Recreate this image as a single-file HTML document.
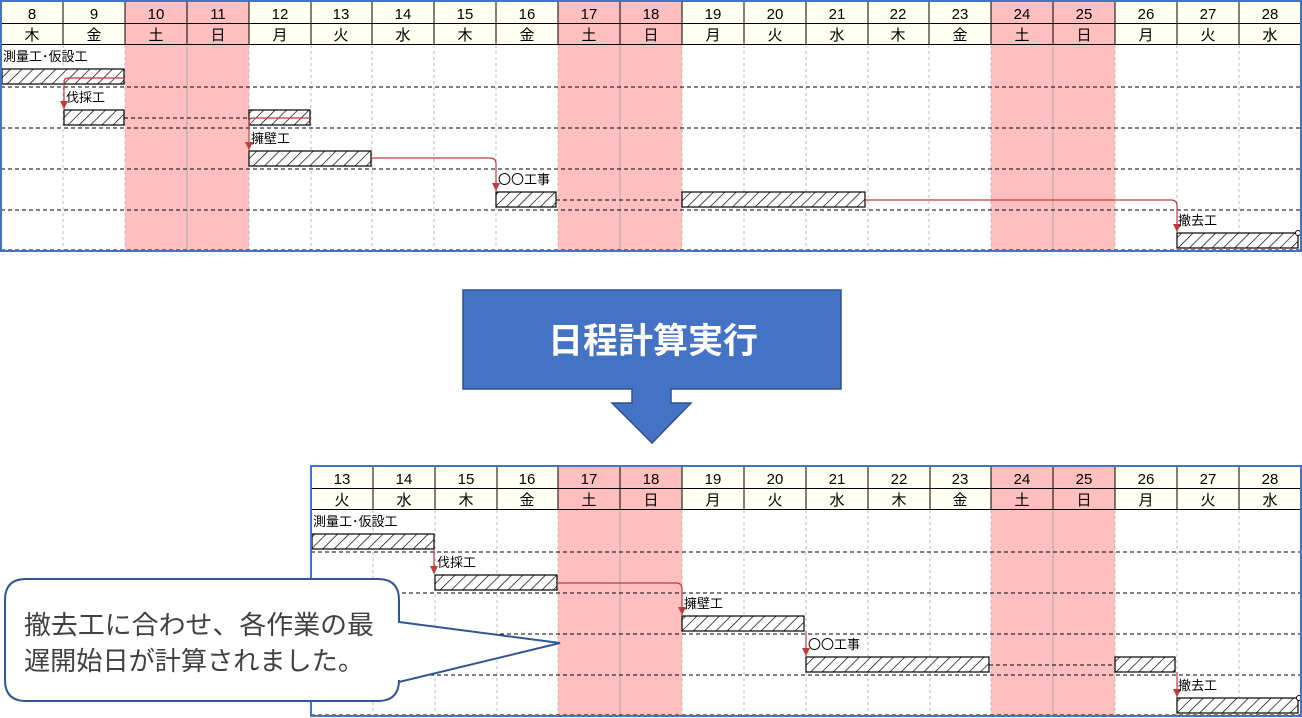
<!DOCTYPE html>
<html><head><meta charset="utf-8"><style>
html,body{margin:0;padding:0;background:#fff;width:1302px;height:718px;overflow:hidden}
svg{display:block}
text{font-family:"Liberation Sans","Noto Sans CJK JP",sans-serif}
.h{font-size:15px;fill:#000;text-anchor:middle}
.l{font-size:13px;fill:#000}
.c{font-family:"Noto Sans CJK JP",sans-serif}
</style></head><body>
<svg width="1302" height="718" viewBox="0 0 1302 718" xmlns="http://www.w3.org/2000/svg">
<defs>
<pattern id="hat" patternUnits="userSpaceOnUse" width="8" height="8" patternTransform="rotate(45)">
<rect width="8" height="8" fill="#fff"/><line x1="0" y1="0" x2="0" y2="8" stroke="#000" stroke-width="1.4"/>
</pattern>
<marker id="ar" markerWidth="9" markerHeight="9" refX="8" refY="4" orient="auto" markerUnits="userSpaceOnUse"><path d="M0,0 L8,4 L0,8z" fill="#c0393b"/></marker>
</defs>

<!-- ===== TOP CHART ===== -->
<rect x="1" y="1" width="1300" height="250" fill="#fff"/>
<rect x="1" y="1" width="1300" height="44" fill="#FFFFF2"/>
<g fill="#FFBFBF">
<rect x="125" y="1" width="124" height="250"/>
<rect x="558" y="1" width="124" height="250"/>
<rect x="991" y="1" width="124" height="250"/>
</g>
<g stroke="#bbb" stroke-dasharray="3,3" stroke-width="1">
<line x1="63" y1="45" x2="63" y2="251"/><line x1="187" y1="45" x2="187" y2="251" stroke="#aaa" stroke-dasharray="none"/><line x1="311" y1="45" x2="311" y2="251"/><line x1="372" y1="45" x2="372" y2="251"/><line x1="434" y1="45" x2="434" y2="251"/><line x1="496" y1="45" x2="496" y2="251"/><line x1="620" y1="45" x2="620" y2="251" stroke="#aaa" stroke-dasharray="none"/><line x1="744" y1="45" x2="744" y2="251"/><line x1="806" y1="45" x2="806" y2="251"/><line x1="868" y1="45" x2="868" y2="251"/><line x1="929" y1="45" x2="929" y2="251"/><line x1="1053" y1="45" x2="1053" y2="251" stroke="#aaa" stroke-dasharray="none"/><line x1="1177" y1="45" x2="1177" y2="251"/><line x1="1239" y1="45" x2="1239" y2="251"/>
<line x1="125" y1="45" x2="125" y2="251"/><line x1="249" y1="45" x2="249" y2="251"/><line x1="558" y1="45" x2="558" y2="251"/><line x1="682" y1="45" x2="682" y2="251"/><line x1="991" y1="45" x2="991" y2="251"/><line x1="1115" y1="45" x2="1115" y2="251"/>
</g>
<g stroke="#000" stroke-width="1">
<line x1="1" y1="23.5" x2="1301" y2="23.5"/><line x1="1" y1="44.5" x2="1301" y2="44.5"/>
<line x1="63" y1="1" x2="63" y2="45"/><line x1="125" y1="1" x2="125" y2="45"/><line x1="187" y1="1" x2="187" y2="45"/><line x1="249" y1="1" x2="249" y2="45"/><line x1="311" y1="1" x2="311" y2="45"/><line x1="372" y1="1" x2="372" y2="45"/><line x1="434" y1="1" x2="434" y2="45"/><line x1="496" y1="1" x2="496" y2="45"/><line x1="558" y1="1" x2="558" y2="45"/><line x1="620" y1="1" x2="620" y2="45"/><line x1="682" y1="1" x2="682" y2="45"/><line x1="744" y1="1" x2="744" y2="45"/><line x1="806" y1="1" x2="806" y2="45"/><line x1="868" y1="1" x2="868" y2="45"/><line x1="929" y1="1" x2="929" y2="45"/><line x1="991" y1="1" x2="991" y2="45"/><line x1="1053" y1="1" x2="1053" y2="45"/><line x1="1115" y1="1" x2="1115" y2="45"/><line x1="1177" y1="1" x2="1177" y2="45"/><line x1="1239" y1="1" x2="1239" y2="45"/>
</g>
<g stroke="#000" stroke-dasharray="4,3" stroke-width="1">
<line x1="1" y1="87" x2="1301" y2="87"/><line x1="1" y1="128" x2="1301" y2="128"/><line x1="1" y1="169" x2="1301" y2="169"/><line x1="1" y1="210" x2="1301" y2="210"/><line x1="1" y1="250" x2="1301" y2="250"/>
</g>
<text x="32" y="19" class="h">8</text><text x="94" y="19" class="h">9</text><text x="156" y="19" class="h">10</text><text x="218" y="19" class="h">11</text><text x="280" y="19" class="h">12</text><text x="341" y="19" class="h">13</text><text x="403" y="19" class="h">14</text><text x="465" y="19" class="h">15</text><text x="527" y="19" class="h">16</text><text x="589" y="19" class="h">17</text><text x="651" y="19" class="h">18</text><text x="713" y="19" class="h">19</text><text x="775" y="19" class="h">20</text><text x="837" y="19" class="h">21</text><text x="898" y="19" class="h">22</text><text x="960" y="19" class="h">23</text><text x="1022" y="19" class="h">24</text><text x="1084" y="19" class="h">25</text><text x="1146" y="19" class="h">26</text><text x="1208" y="19" class="h">27</text><text x="1270" y="19" class="h">28</text>
<text x="32" y="40" class="h">木</text><text x="94" y="40" class="h">金</text><text x="156" y="40" class="h">土</text><text x="218" y="40" class="h">日</text><text x="280" y="40" class="h">月</text><text x="341" y="40" class="h">火</text><text x="403" y="40" class="h">水</text><text x="465" y="40" class="h">木</text><text x="527" y="40" class="h">金</text><text x="589" y="40" class="h">土</text><text x="651" y="40" class="h">日</text><text x="713" y="40" class="h">月</text><text x="775" y="40" class="h">火</text><text x="837" y="40" class="h">水</text><text x="898" y="40" class="h">木</text><text x="960" y="40" class="h">金</text><text x="1022" y="40" class="h">土</text><text x="1084" y="40" class="h">日</text><text x="1146" y="40" class="h">月</text><text x="1208" y="40" class="h">火</text><text x="1270" y="40" class="h">水</text>
<g stroke="#000" stroke-width="1.2" fill="url(#hat)">
<rect x="2" y="69" width="122" height="15"/>
<rect x="64" y="110" width="60" height="15"/>
<rect x="249" y="110" width="61" height="15"/>
<rect x="249" y="151" width="122" height="15"/>
<rect x="496" y="192" width="60" height="15"/>
<rect x="682" y="192" width="183" height="15"/>
<rect x="1177" y="233" width="121" height="15"/>
</g>
<g stroke="#000" stroke-dasharray="4,3"><line x1="124" y1="118" x2="249" y2="118"/><line x1="556" y1="200" x2="682" y2="200"/></g>
<g stroke="#c0393b" stroke-width="1.2" fill="none">
<path d="M124,78 H68 Q64,78 64,82 V109" marker-end="url(#ar)"/>
<path d="M310,118 H253 Q249,118 249,122 V150" marker-end="url(#ar)"/>
<path d="M371,158 H490 Q496,158 496,164 V191" marker-end="url(#ar)"/>
<path d="M865,200 H1171 Q1177,200 1177,206 V232" marker-end="url(#ar)"/>
</g>
<text x="3" y="61" class="l">測量工･仮設工</text>
<text x="66" y="102" class="l">伐採工</text>
<text x="251" y="143" class="l">擁壁工</text>
<text x="498" y="184" class="l"><tspan class="c">〇〇</tspan>工事</text>
<text x="1178" y="225" class="l">撤去工</text>
<circle cx="1298" cy="233" r="2.5" fill="#fff" stroke="#000"/>
<rect x="1" y="1" width="1300" height="250" fill="none" stroke="#4472C4" stroke-width="2"/>

<!-- ===== ARROW ===== -->
<rect x="463" y="290" width="378" height="99" fill="#4472C4" stroke="#2F528F" stroke-width="1.5"/>
<path d="M632,389 V403 H612 L652,443 L691,403 H671 V389" fill="#4472C4" stroke="#2F528F" stroke-width="1.5"/>
<rect x="633" y="385" width="37" height="6" fill="#4472C4"/>
<text x="653" y="353" text-anchor="middle" font-size="35" font-weight="bold" fill="#fff">日程計算実行</text>

<!-- ===== BOTTOM CHART ===== -->
<rect x="311" y="466" width="990" height="250" fill="#fff"/>
<rect x="311" y="466" width="990" height="44" fill="#FFFFF2"/>
<g fill="#FFBFBF">
<rect x="558" y="466" width="124" height="250"/>
<rect x="991" y="466" width="124" height="250"/>
</g>
<g stroke="#bbb" stroke-dasharray="3,3">
<line x1="373" y1="510" x2="373" y2="716"/><line x1="435" y1="510" x2="435" y2="716"/><line x1="497" y1="510" x2="497" y2="716"/><line x1="558" y1="510" x2="558" y2="716"/><line x1="620" y1="510" x2="620" y2="716" stroke="#aaa" stroke-dasharray="none"/><line x1="682" y1="510" x2="682" y2="716"/><line x1="744" y1="510" x2="744" y2="716"/><line x1="806" y1="510" x2="806" y2="716"/><line x1="868" y1="510" x2="868" y2="716"/><line x1="930" y1="510" x2="930" y2="716"/><line x1="991" y1="510" x2="991" y2="716"/><line x1="1053" y1="510" x2="1053" y2="716" stroke="#aaa" stroke-dasharray="none"/><line x1="1115" y1="510" x2="1115" y2="716"/><line x1="1177" y1="510" x2="1177" y2="716"/><line x1="1239" y1="510" x2="1239" y2="716"/>
</g>
<g stroke="#000">
<line x1="311" y1="488.5" x2="1301" y2="488.5"/><line x1="311" y1="509.5" x2="1301" y2="509.5"/>
<line x1="373" y1="466" x2="373" y2="510"/><line x1="435" y1="466" x2="435" y2="510"/><line x1="497" y1="466" x2="497" y2="510"/><line x1="558" y1="466" x2="558" y2="510"/><line x1="620" y1="466" x2="620" y2="510"/><line x1="682" y1="466" x2="682" y2="510"/><line x1="744" y1="466" x2="744" y2="510"/><line x1="806" y1="466" x2="806" y2="510"/><line x1="868" y1="466" x2="868" y2="510"/><line x1="930" y1="466" x2="930" y2="510"/><line x1="991" y1="466" x2="991" y2="510"/><line x1="1053" y1="466" x2="1053" y2="510"/><line x1="1115" y1="466" x2="1115" y2="510"/><line x1="1177" y1="466" x2="1177" y2="510"/><line x1="1239" y1="466" x2="1239" y2="510"/>
</g>
<g stroke="#000" stroke-dasharray="4,3">
<line x1="311" y1="552" x2="1301" y2="552"/><line x1="311" y1="593" x2="1301" y2="593"/><line x1="311" y1="634" x2="1301" y2="634"/><line x1="311" y1="675" x2="1301" y2="675"/><line x1="311" y1="715" x2="1301" y2="715"/>
</g>
<text x="342" y="484" class="h">13</text><text x="404" y="484" class="h">14</text><text x="466" y="484" class="h">15</text><text x="527" y="484" class="h">16</text><text x="589" y="484" class="h">17</text><text x="651" y="484" class="h">18</text><text x="713" y="484" class="h">19</text><text x="775" y="484" class="h">20</text><text x="837" y="484" class="h">21</text><text x="899" y="484" class="h">22</text><text x="960" y="484" class="h">23</text><text x="1022" y="484" class="h">24</text><text x="1084" y="484" class="h">25</text><text x="1146" y="484" class="h">26</text><text x="1208" y="484" class="h">27</text><text x="1270" y="484" class="h">28</text>
<text x="342" y="505" class="h">火</text><text x="404" y="505" class="h">水</text><text x="466" y="505" class="h">木</text><text x="527" y="505" class="h">金</text><text x="589" y="505" class="h">土</text><text x="651" y="505" class="h">日</text><text x="713" y="505" class="h">月</text><text x="775" y="505" class="h">火</text><text x="837" y="505" class="h">水</text><text x="899" y="505" class="h">木</text><text x="960" y="505" class="h">金</text><text x="1022" y="505" class="h">土</text><text x="1084" y="505" class="h">日</text><text x="1146" y="505" class="h">月</text><text x="1208" y="505" class="h">火</text><text x="1270" y="505" class="h">水</text>
<g stroke="#000" stroke-width="1.2" fill="url(#hat)">
<rect x="312" y="534" width="122" height="15"/>
<rect x="435" y="575" width="122" height="15"/>
<rect x="682" y="616" width="122" height="15"/>
<rect x="806" y="657" width="183" height="15"/>
<rect x="1115" y="657" width="60" height="15"/>
<rect x="1177" y="698" width="121" height="15"/>
</g>
<line x1="989" y1="665" x2="1115" y2="665" stroke="#000" stroke-dasharray="4,3"/>
<g stroke="#c0393b" stroke-width="1.2" fill="none">
<path d="M434,549 V574" marker-end="url(#ar)"/>
<path d="M557,583 H676 Q682,583 682,589 V615" marker-end="url(#ar)"/>
<path d="M806,631 V656" marker-end="url(#ar)"/>
<path d="M1177,672 V697" marker-end="url(#ar)"/>
</g>
<text x="313" y="526" class="l">測量工･仮設工</text>
<text x="437" y="567" class="l">伐採工</text>
<text x="684" y="608" class="l">擁壁工</text>
<text x="808" y="649" class="l"><tspan class="c">〇〇</tspan>工事</text>
<text x="1178" y="690" class="l">撤去工</text>
<circle cx="1299" cy="698" r="2.5" fill="#fff" stroke="#000"/>
<rect x="311" y="466" width="990" height="250" fill="none" stroke="#4472C4" stroke-width="2"/>

<!-- ===== CALLOUT ===== -->
<path d="M26,579 H378 Q399,579 399,600 V622 L560,643 L399,682 V680 Q399,701 378,701 H26 Q5,701 5,680 V600 Q5,579 26,579 Z" fill="#fff" stroke="#2F5597" stroke-width="2"/>
<text x="24" y="634" font-size="26" fill="#404040" textLength="350" lengthAdjust="spacingAndGlyphs">撤去工に合わせ、各作業の最</text>
<text x="24" y="670" font-size="26" fill="#404040" textLength="340" lengthAdjust="spacingAndGlyphs">遅開始日が計算されました。</text>
</svg>
</body></html>
